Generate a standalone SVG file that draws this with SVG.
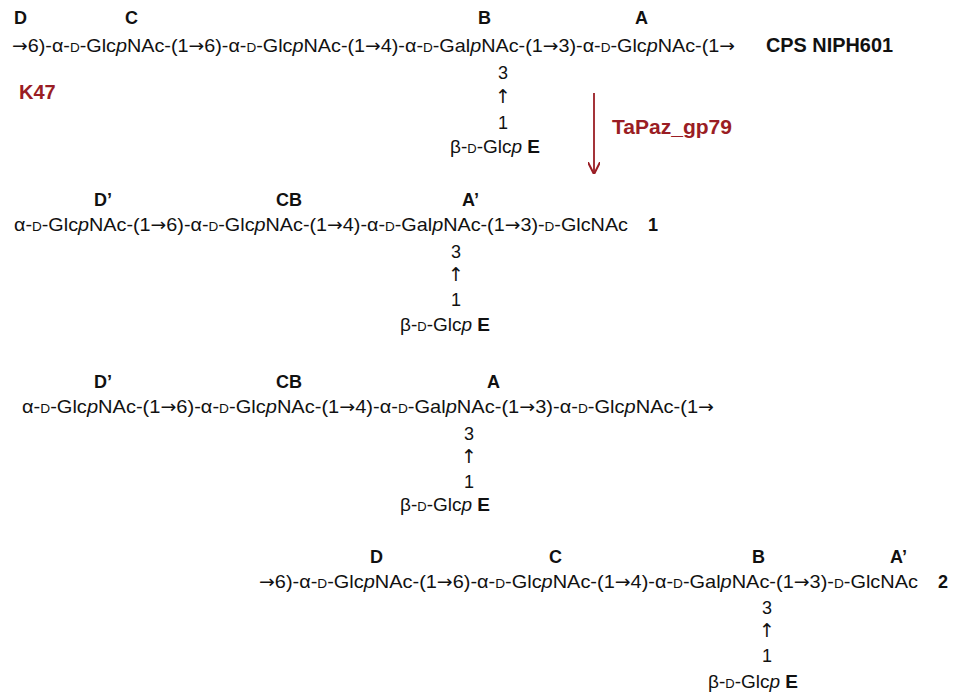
<svg xmlns="http://www.w3.org/2000/svg" width="957" height="695" viewBox="0 0 957 695">
<defs>
<style>
text{font-family:"Liberation Sans","DejaVu Sans",sans-serif;fill:#111}
.ch{font-size:19px}
.lb{font-size:18px;font-weight:bold}
.n{font-size:18px;text-anchor:middle}
.sc{font-size:13px}
.it{font-style:italic}
.ar{font-family:"DejaVu Sans",sans-serif;font-size:18px}
.up{font-family:"DejaVu Sans",sans-serif;font-size:19px;text-anchor:middle}
.red{fill:#9a1d24;font-weight:bold;font-size:20px}
.big{font-size:20px;font-weight:bold}
</style>
<marker id="ah" viewBox="0 0 10 10" refX="9" refY="5" markerWidth="7" markerHeight="7" orient="auto"><path d="M0,0 L10,5 L0,10" fill="none" stroke="#9a1d24" stroke-width="1.6"/></marker>
</defs>
<rect width="957" height="695" fill="#fff"/>

<g id="cps">
<text class="lb" x="14" y="24">D</text>
<text class="lb" x="125" y="24">C</text>
<text class="lb" x="478" y="24">B</text>
<text class="lb" x="635" y="24">A</text>
<text class="ch" x="12" y="52" textLength="723" lengthAdjust="spacingAndGlyphs"><tspan class="ar">→</tspan>6)-α-<tspan class="sc">D</tspan>-Glc<tspan class="it">p</tspan>NAc-(1<tspan class="ar">→</tspan>6)-α-<tspan class="sc">D</tspan>-Glc<tspan class="it">p</tspan>NAc-(1<tspan class="ar">→</tspan>4)-α-<tspan class="sc">D</tspan>-Gal<tspan class="it">p</tspan>NAc-(1<tspan class="ar">→</tspan>3)-α-<tspan class="sc">D</tspan>-Glc<tspan class="it">p</tspan>NAc-(1<tspan class="ar">→</tspan></text>
<text class="big" x="766" y="52" textLength="127" lengthAdjust="spacingAndGlyphs">CPS NIPH601</text>
<text class="n" x="503" y="79">3</text>
<text class="up" x="503" y="103">↑</text>
<text class="n" x="503" y="129">1</text>
<text class="ch" x="450" y="153">β-<tspan class="sc">D</tspan>-Glc<tspan class="it">p</tspan> <tspan font-weight="bold">E</tspan></text>
</g>

<g id="k47"><text class="red" x="19" y="99">K47</text></g>

<g id="enzyme">
<line x1="594" y1="93" x2="594" y2="173" stroke="#9a1d24" stroke-width="1.8" marker-end="url(#ah)"/>
<text class="red" x="612" y="134" textLength="120" lengthAdjust="spacingAndGlyphs">TaPaz_gp79</text>
</g>

<g id="product1">
<text class="lb" x="94" y="206">D’</text>
<text class="lb" x="276" y="206">CB</text>
<text class="lb" x="462" y="206">A’</text>
<text class="ch" x="14" y="231" textLength="614" lengthAdjust="spacingAndGlyphs">α-<tspan class="sc">D</tspan>-Glc<tspan class="it">p</tspan>NAc-(1<tspan class="ar">→</tspan>6)-α-<tspan class="sc">D</tspan>-Glc<tspan class="it">p</tspan>NAc-(1<tspan class="ar">→</tspan>4)-α-<tspan class="sc">D</tspan>-Gal<tspan class="it">p</tspan>NAc-(1<tspan class="ar">→</tspan>3)-<tspan class="sc">D</tspan>-GlcNAc</text>
<text class="lb" x="648" y="231">1</text>
<text class="n" x="456" y="258">3</text>
<text class="up" x="456" y="281">↑</text>
<text class="n" x="456" y="306">1</text>
<text class="ch" x="400" y="331">β-<tspan class="sc">D</tspan>-Glc<tspan class="it">p</tspan> <tspan font-weight="bold">E</tspan></text>
</g>

<g id="product3">
<text class="lb" x="94" y="388">D’</text>
<text class="lb" x="276" y="388">CB</text>
<text class="lb" x="487" y="388">A</text>
<text class="ch" x="22" y="413" textLength="692" lengthAdjust="spacingAndGlyphs">α-<tspan class="sc">D</tspan>-Glc<tspan class="it">p</tspan>NAc-(1<tspan class="ar">→</tspan>6)-α-<tspan class="sc">D</tspan>-Glc<tspan class="it">p</tspan>NAc-(1<tspan class="ar">→</tspan>4)-α-<tspan class="sc">D</tspan>-Gal<tspan class="it">p</tspan>NAc-(1<tspan class="ar">→</tspan>3)-α-<tspan class="sc">D</tspan>-Glc<tspan class="it">p</tspan>NAc-(1<tspan class="ar">→</tspan></text>
<text class="n" x="469" y="440">3</text>
<text class="up" x="469" y="463">↑</text>
<text class="n" x="469" y="488">1</text>
<text class="ch" x="400" y="511">β-<tspan class="sc">D</tspan>-Glc<tspan class="it">p</tspan> <tspan font-weight="bold">E</tspan></text>
</g>

<g id="product2">
<text class="lb" x="370" y="563">D</text>
<text class="lb" x="549" y="563">C</text>
<text class="lb" x="752" y="563">B</text>
<text class="lb" x="890" y="563">A’</text>
<text class="ch" x="259" y="588" textLength="659" lengthAdjust="spacingAndGlyphs"><tspan class="ar">→</tspan>6)-α-<tspan class="sc">D</tspan>-Glc<tspan class="it">p</tspan>NAc-(1<tspan class="ar">→</tspan>6)-α-<tspan class="sc">D</tspan>-Glc<tspan class="it">p</tspan>NAc-(1<tspan class="ar">→</tspan>4)-α-<tspan class="sc">D</tspan>-Gal<tspan class="it">p</tspan>NAc-(1<tspan class="ar">→</tspan>3)-<tspan class="sc">D</tspan>-GlcNAc</text>
<text class="lb" x="938" y="588">2</text>
<text class="n" x="767" y="614">3</text>
<text class="up" x="767" y="637">↑</text>
<text class="n" x="767" y="662">1</text>
<text class="ch" x="708" y="688">β-<tspan class="sc">D</tspan>-Glc<tspan class="it">p</tspan>  <tspan font-weight="bold">E</tspan></text>
</g>
</svg>
